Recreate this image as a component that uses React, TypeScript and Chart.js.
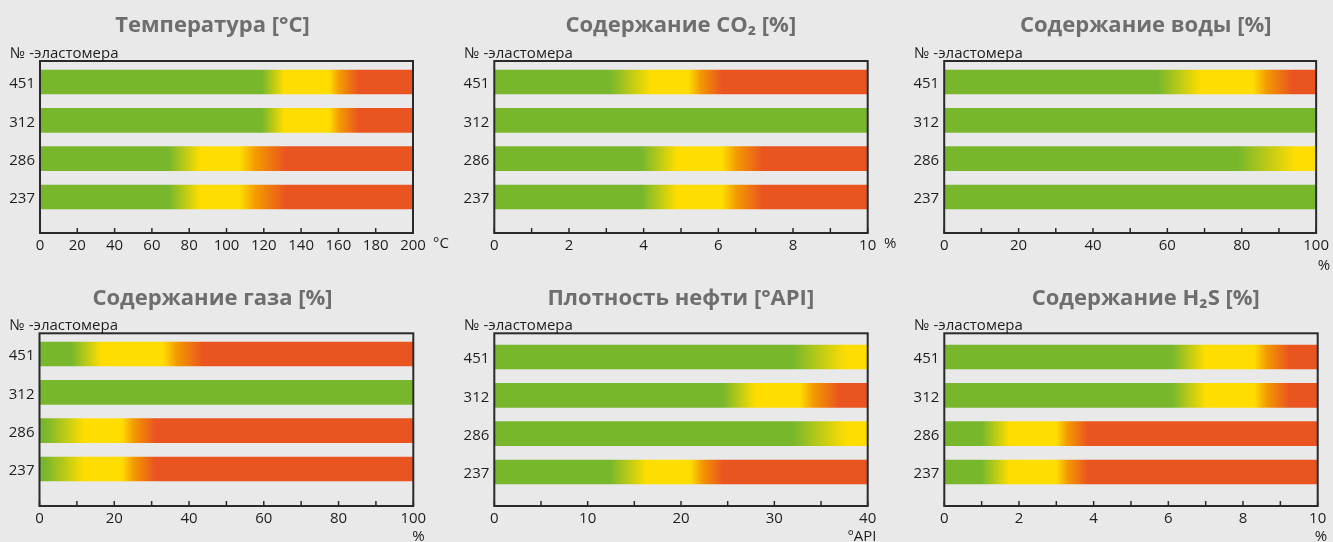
import React, { useEffect, useRef } from 'react';
import { Chart, registerables } from 'chart.js';

Chart.register(...registerables);

// ---------- data ----------
const ELASTOMERS = ['451', '312', '286', '237'];

// per elastomer: [green ends, yellow begins, yellow ends, red begins]; null = green over the whole range
const TEMP_STOPS = [[119, 131, 155, 171], [119, 131, 155, 171], [69, 86, 107, 132], [69, 86, 107, 132]];
const CO2_STOPS = [[3.1, 4.2, 5.2, 6.1], null, [3.95, 4.9, 6.1, 7.2], [3.95, 4.9, 6.1, 7.2]];
const WATER_STOPS = [[57.5, 69, 83, 93.5], null, [79, 94.5, 110, 120], null];
const GAS_STOPS = [[8.6, 16.5, 33, 43.8], null, [1.5, 12, 22, 31], [1.5, 12, 22, 31]];
const API_STOPS = [[32, 37.7, 45, 50], [24.5, 28, 32.7, 37], [32, 37.7, 45, 50], [12.4, 16.3, 21, 24.5]];
const H2S_STOPS = [[6.1, 7.0, 8.3, 9.25], [6.1, 7.0, 8.3, 9.25], [1.0, 1.75, 3.0, 3.85], [1.0, 1.75, 3.0, 3.85]];

// axis tick labels and minor step
const TEMP_LABELS = [0, 20, 40, 60, 80, 100, 120, 140, 160, 180, 200];
const CO2_LABELS = [0, 2, 4, 6, 8, 10];
const WATER_LABELS = [0, 20, 40, 60, 80, 100];
const GAS_LABELS = [0, 20, 40, 60, 80, 100];
const API_LABELS = [0, 10, 20, 30, 40];
const H2S_LABELS = [0, 2, 4, 6, 8, 10];
const MINOR_STEPS = [20, 1, 10, 10, 5, 1];

const TITLES = [
  'Температура [°C]',
  'Содержание CO₂ [%]',
  'Содержание воды [%]',
  'Содержание газа [%]',
  'Плотность нефти [°API]',
  'Содержание H₂S [%]',
];
const UNITS = ['°C', '%', '%', '%', '°API', '%'];
const Y_CAPTION = '№ -эластомера';

// ---------- styles / layout ----------
const FONT = "'Open Sans', 'Noto Sans', sans-serif";
const BG = '#e9e9e9';
const GREEN = '#78b72c';
const YELLOW = '#ffdd00';
const ORANGE = '#f39a00';
const RED = '#e95421';
const TEXT = '#1e1e1e';
const TITLE_COLOR = '#6e6e6e';
const AXIS = '#2a2a2a';

type Layout = {
  left: number; top: number; width: number; height: number;
  padR: number; padT: number; yW: number; xH: number;
  yMin: number; yMax: number;
  titleX: number; titleY: number;
  unitX: number; unitY: number; unitAlign: CanvasTextAlign;
};

const LAYOUTS: Layout[] = [
  { left: 0, top: 0, width: 450, height: 271, padR: 37, padT: 61, yW: 40, xH: 38, yMin: -0.548, yMax: 3.939, titleX: 212.5, titleY: 26, unitX: 433, unitY: 244, unitAlign: 'left' },
  { left: 450, top: 0, width: 450, height: 271, padR: 32.3, padT: 61, yW: 44.3, xH: 38, yMin: -0.548, yMax: 3.939, titleX: 230.8, titleY: 26, unitX: 434, unitY: 244, unitAlign: 'left' },
  { left: 900, top: 0, width: 433, height: 271, padR: 15.3, padT: 61, yW: 44.2, xH: 38, yMin: -0.548, yMax: 3.939, titleX: 245.8, titleY: 26, unitX: 424, unitY: 266, unitAlign: 'center' },
  { left: 0, top: 271, width: 450, height: 271, padR: 36.7, padT: 62.3, yW: 39.5, xH: 36, yMin: -0.54, yMax: 3.965, titleX: 212.5, titleY: 28, unitX: 418.5, unitY: 266, unitAlign: 'center' },
  { left: 450, top: 271, width: 450, height: 271, padR: 32.3, padT: 62.3, yW: 44.3, xH: 36, yMin: -0.618, yMax: 3.887, titleX: 230.8, titleY: 28, unitX: 412, unitY: 266, unitAlign: 'center' },
  { left: 900, top: 271, width: 433, height: 271, padR: 15.3, padT: 62.3, yW: 44.3, xH: 36, yMin: -0.618, yMax: 3.887, titleX: 245.8, titleY: 28, unitX: 421, unitY: 266, unitAlign: 'center' },
];

const PANEL_STOPS = [TEMP_STOPS, CO2_STOPS, WATER_STOPS, GAS_STOPS, API_STOPS, H2S_STOPS];
const PANEL_LABELS = [TEMP_LABELS, CO2_LABELS, WATER_LABELS, GAS_LABELS, API_LABELS, H2S_LABELS];

const decor = {
  id: 'decor',
  afterDatasetsDraw(chart: any, _args: any, opts: any) {
    const { ctx, chartArea: a, scales } = chart;
    const xs = scales.x;
    ctx.save();
    // inward ticks on the bottom axis
    ctx.strokeStyle = AXIS;
    ctx.lineWidth = 1.5;
    xs.ticks.forEach((t: any) => {
      const px = xs.getPixelForValue(t.value);
      ctx.beginPath();
      ctx.moveTo(px, a.bottom);
      ctx.lineTo(px, a.bottom - 5);
      ctx.stroke();
    });
    // frame
    ctx.lineWidth = 2;
    ctx.strokeRect(a.left, a.top, a.right - a.left, a.bottom - a.top);
    // title
    ctx.fillStyle = TITLE_COLOR;
    ctx.font = `bold 22px ${FONT}`;
    ctx.textAlign = 'center';
    ctx.textBaseline = 'middle';
    ctx.fillText(opts.title, opts.titleX, opts.titleY);
    // y caption
    ctx.fillStyle = TEXT;
    ctx.font = `15px ${FONT}`;
    ctx.textAlign = 'left';
    ctx.textBaseline = 'alphabetic';
    ctx.fillText(Y_CAPTION, a.left - 30, a.top - 3);
    // unit
    ctx.font = `15px ${FONT}`;
    ctx.textAlign = opts.unitAlign;
    ctx.textBaseline = 'middle';
    ctx.fillText(opts.unit, opts.unitX, opts.unitY);
    ctx.restore();
  },
};

function makeConfig(i: number): any {
  const L = LAYOUTS[i];
  const stops = PANEL_STOPS[i];
  const labels = PANEL_LABELS[i];
  const axisMax = labels[labels.length - 1];
  return {
    type: 'bar',
    data: {
      datasets: [
        {
          data: ELASTOMERS.map((_, k) => ({ x: axisMax, y: k })),
          barThickness: 24,
          borderWidth: 0,
          backgroundColor: (c: any) => {
            const chart = c.chart;
            const s = stops[c.dataIndex];
            if (!chart.chartArea || !s) return GREEN;
            const xs = chart.scales.x;
            const end = Math.max(axisMax, s[3]);
            const g = chart.ctx.createLinearGradient(xs.getPixelForValue(0), 0, xs.getPixelForValue(end), 0);
            const o = (v: number) => Math.min(1, Math.max(0, v / end));
            g.addColorStop(0, GREEN);
            g.addColorStop(o(s[0]), GREEN);
            g.addColorStop(o(s[1]), YELLOW);
            g.addColorStop(o(s[2]), YELLOW);
            g.addColorStop(o(s[2] + (s[3] - s[2]) * 0.35), ORANGE);
            g.addColorStop(o(s[3]), RED);
            g.addColorStop(1, RED);
            return g;
          },
        },
      ],
    },
    options: {
      indexAxis: 'y',
      animation: false,
      responsive: false,
      devicePixelRatio: 1,
      layout: { padding: { left: 0, right: L.padR, top: L.padT, bottom: 0 } },
      plugins: {
        legend: { display: false },
        tooltip: { enabled: false },
        title: { display: false },
        decor: {
          title: TITLES[i], titleX: L.titleX, titleY: L.titleY,
          unit: UNITS[i], unitX: L.unitX, unitY: L.unitY, unitAlign: L.unitAlign,
        },
      },
      scales: {
        x: {
          type: 'linear',
          position: 'bottom',
          offset: false,
          min: 0,
          max: axisMax,
          grid: { display: false, drawTicks: false, offset: false },
          border: { display: false },
          ticks: {
            stepSize: MINOR_STEPS[i],
            autoSkip: false,
            maxRotation: 0,
            padding: 4,
            color: TEXT,
            font: { family: FONT, size: 15 },
            callback: (v: number) => (labels.indexOf(v) >= 0 ? String(v) : ''),
          },
          afterFit: (s: any) => { s.height = L.xH; },
        },
        y: {
          type: 'linear',
          position: 'left',
          offset: false,
          reverse: true,
          min: L.yMin,
          max: L.yMax,
          grid: { display: false, drawTicks: false, offset: false },
          border: { display: false },
          afterBuildTicks: (s: any) => { s.ticks = ELASTOMERS.map((_, k) => ({ value: k })); },
          ticks: {
            padding: 5,
            labelOffset: 2,
            color: TEXT,
            font: { family: FONT, size: 15 },
            callback: (v: number) => ELASTOMERS[v] ?? '',
          },
          afterFit: (s: any) => { s.width = L.yW; },
        },
      },
    },
    plugins: [decor],
  };
}

function Panel({ index }: { index: number }) {
  const ref = useRef<HTMLCanvasElement>(null);
  useEffect(() => {
    if (!ref.current) return;
    const chart = new Chart(ref.current, makeConfig(index));
    return () => chart.destroy();
  }, [index]);
  const L = LAYOUTS[index];
  return (
    <canvas
      ref={ref}
      width={L.width}
      height={L.height}
      style={{ position: 'absolute', left: L.left, top: L.top, width: L.width, height: L.height, display: 'block' }}
    />
  );
}

export default function App() {
  return (
    <div style={{ position: 'absolute', left: 0, top: 0, width: 1333, height: 542, background: BG, overflow: 'hidden' }}>
      {TITLES.map((_, i) => (
        <Panel key={i} index={i} />
      ))}
    </div>
  );
}
